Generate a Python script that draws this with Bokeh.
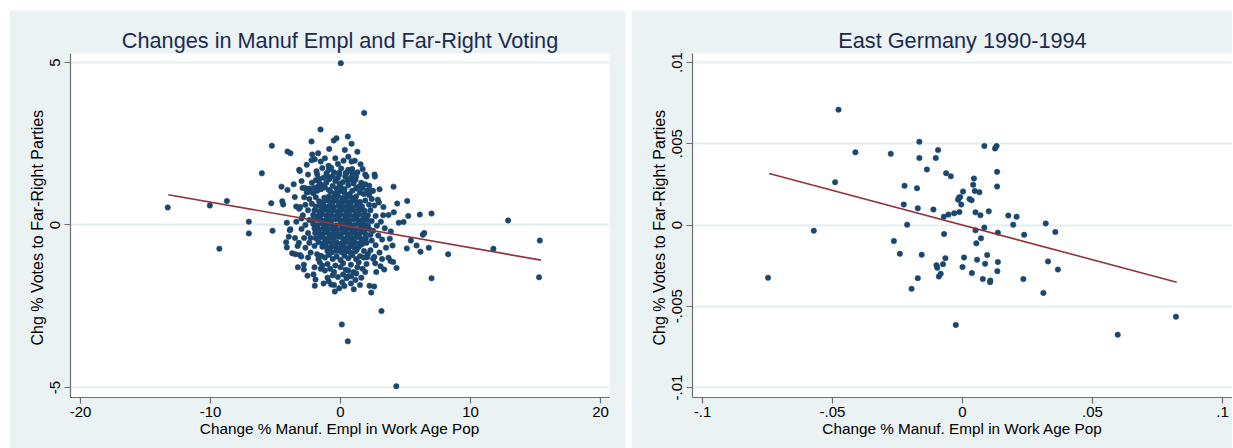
from bokeh.plotting import figure
from bokeh.layouts import row
from bokeh.models import FixedTicker, Range1d
from bokeh.embed import file_html
from bokeh.resources import INLINE

# ---------------- texts ----------------
left_title = "Changes in Manuf Empl and Far-Right Voting"
right_title = "East Germany 1990-1994"
x_title = "Change % Manuf. Empl in Work Age Pop"
y_title = "Chg % Votes to  Far-Right Parties"

# ---------------- ticks ----------------
left_xticks = [-20, -10, 0, 10, 20]
left_xlabels = ["-20", "-10", "0", "10", "20"]
left_yticks = [-5, 0, 5]
left_ylabels = ["-5", "0", "5"]
right_xticks = [-0.1, -0.05, 0, 0.05, 0.1]
right_xlabels = ["-.1", "-.05", "0", ".05", ".1"]
right_yticks = [-0.01, -0.005, 0, 0.005, 0.01]
right_ylabels = ["-.01", "-.005", "0", ".005", ".01"]

# ---------------- left panel data ----------------
left_far = [(-13.29, 0.54), (-10.05, 0.60), (-8.74, 0.74), (-9.32, -0.73), (-7.05, 0.10),
            (-7.05, -0.26), (-6.05, 1.59), (-5.28, 2.44), (-5.33, 0.67), (-5.23, -0.18),
            (8.28, -0.90), (11.76, -0.73), (12.89, 0.14), (15.33, -0.48), (15.27, -1.61),
            (0.02, 4.98), (1.82, 3.45), (3.15, -2.65), (0.10, -3.06), (0.56, -3.58),
            (4.29, -4.96), (7.00, 0.35), (7.00, -1.64), (6.10, 0.32)]

left_upper = [(-1.54, 2.94), (-2.23, 2.57), (-0.52, 2.60), (-0.31, 2.67), (0.56, 2.72), (0.85, 2.50),
              (-0.87, 2.34), (0.33, 2.31), (-4.08, 2.26), (-3.85, 2.21), (-2.18, 2.17), (-1.72, 2.21),
              (-2.23, 1.99), (-1.98, 2.02), (-1.52, 1.95), (0.23, 1.98), (0.85, 1.95), (1.10, 1.98),
              (1.54, 1.87), (-3.18, 1.70), (-3.13, 1.66), (-0.92, 1.82), (-0.72, 1.76), (0.05, 1.74),
              (-1.85, 1.65), (-1.79, 1.55), (-1.64, 1.42), (-1.08, 1.59), (-0.98, 1.49), (-0.87, 1.41),
              (-0.10, 1.61), (0.46, 1.59), (0.36, 1.49), (1.90, 1.55), (2.00, 1.49), (2.62, 1.55),
              (2.64, 1.49), (0.56, 1.37), (0.87, 1.39), (1.15, 1.39), (-0.08, 1.27), (4.08, 1.18),
              (-4.54, 1.18), (-4.08, 1.08), (-2.92, 1.14), (-2.75, 1.14), (-2.41, 1.12), (-2.05, 1.14),
              (-1.75, 1.18), (-1.38, 1.21), (1.41, 1.18), (1.69, 1.14), (2.21, 1.21), (2.05, 1.06),
              (-4.48, 0.73), (-4.41, 0.63), (-3.52, 0.86), (-3.41, 0.57), (-3.18, 0.50), (2.87, 0.78),
              (2.95, 0.69), (5.13, 0.74), (4.36, 0.66), (5.21, 0.28), (4.10, 0.39), (3.69, 0.31),
              (3.28, 0.30)]

left_lower = [(-4.13, 0.07), (-3.90, -0.16), (-4.18, -0.53), (-4.13, -0.69), (-3.98, -0.36), (-3.72, -0.87),
              (-3.46, -0.90), (-3.13, -0.92), (-3.02, -0.97), (-3.28, -1.30), (-2.82, -1.22), (-2.82, -1.37),
              (-2.54, -1.56), (-2.08, -1.52), (-1.92, -1.68), (-1.98, -1.87), (-1.52, -1.35), (-2.00, -1.30),
              (-0.92, -1.73), (-0.72, -1.83), (-0.44, -2.05), (-0.10, -1.95), (0.13, -1.76), (0.46, -1.64),
              (0.62, -1.58), (0.82, -1.58), (1.15, -1.69), (1.21, -1.49), (1.02, -1.98), (2.23, -1.87),
              (2.59, -1.89), (2.36, -2.08), (2.75, -1.45), (3.36, -1.37), (3.69, -1.01), (3.85, -1.11),
              (4.05, -1.14), (4.31, -1.32), (4.00, -0.63), (3.79, -0.42), (3.87, -0.20), (5.10, -0.72),
              (5.41, -0.48), (5.85, -0.63), (6.15, -0.82), (6.79, -0.70), (6.33, -0.30), (6.44, -0.25),
              (4.48, 0.07), (4.85, 0.09), (2.05, -0.99), (2.51, -1.04), (3.08, -1.27), (2.67, -1.18),
              (-3.86, -0.13)]

left_ring = [(-2.4, 1.02), (-2.1, 0.98), (-1.8, 1.05), (-1.5, 1.10), (-1.2, 1.15), (-0.9, 1.08), (-0.6, 1.20),
             (-0.3, 1.12), (0.0, 1.18), (0.3, 1.10), (0.6, 1.22), (0.9, 1.05), (1.2, 1.12), (1.5, 1.00),
             (1.8, 0.95), (2.2, 0.92), (-1.1, 1.30), (-0.4, 1.35), (0.2, 1.32), (1.0, 1.28), (-1.6, 1.28),
             (1.6, 1.30), (0.8, 1.45), (-0.6, 1.50), (-1.3, 1.45), (-0.2, 1.88), (0.6, 1.70), (-0.5, 1.62),
             (1.3, 1.62), (-2.5, 1.55),
             (-1.8, -0.90), (-1.5, -0.95), (-1.2, -1.00), (-0.9, -0.92), (-0.6, -1.05), (-0.3, -0.97),
             (0.0, -1.08), (0.3, -0.95), (0.6, -1.02), (0.9, -0.93), (1.2, -1.05), (1.5, -0.96), (1.8, -1.00),
             (2.1, -0.90), (-1.6, -1.15), (-1.0, -1.20), (-0.4, -1.25), (0.2, -1.18), (0.8, -1.22),
             (1.4, -1.15), (2.0, -1.20), (-1.2, -1.40), (-0.5, -1.45), (0.4, -1.38), (1.0, -1.45),
             (1.7, -1.35), (-0.2, -1.60), (0.8, -1.80), (1.6, -1.62), (-1.0, -1.62),
             (-2.4, 0.80), (-2.7, 0.62), (-2.5, 0.45), (-2.9, 0.30), (-2.4, 0.15), (-2.7, 0.00),
             (-3.0, -0.12), (-2.5, -0.25), (-2.8, -0.40), (-2.4, -0.55), (-2.7, -0.70), (-2.3, -0.85),
             (-3.1, 0.55), (-3.2, -0.55), (-2.6, 1.00),
             (2.4, 0.80), (2.6, 0.60), (2.3, 0.45), (2.7, 0.28), (2.4, 0.12), (2.8, -0.02), (2.5, -0.18),
             (2.9, -0.32), (2.4, -0.48), (2.7, -0.62), (2.3, -0.78), (3.0, -0.85), (3.1, 0.10),
             (3.2, -0.45), (2.6, -0.98)]

left_extra = [(-2.2, 1.30), (-1.9, 1.38), (-0.2, 1.45), (0.4, 1.60), (1.2, 1.50), (1.9, 1.25), (2.4, 1.05),
              (-2.8, 0.85), (-3.0, 0.20), (-2.2, 0.65), (2.2, 0.62), (2.1, 0.30), (3.3, 0.55), (-3.4, 0.10),
              (-2.3, -0.40), (2.3, -0.30), (3.5, -0.70), (-2.5, -1.00), (-1.4, -1.25), (-0.8, -1.35),
              (0.0, -1.30), (0.6, -1.40), (1.3, -1.30), (1.9, -1.45), (-0.6, -1.55), (0.2, -1.52),
              (1.5, -1.85), (-1.3, -1.80), (-0.5, -1.85), (0.3, -1.88), (-0.9, 1.70), (0.9, 1.72),
              (-1.4, 1.75), (1.7, 1.72), (-0.4, 2.05), (0.6, 2.10), (-1.2, 2.05), (1.3, 2.25),
              (-2.6, 1.85), (2.5, 1.05), (3.0, 1.10), (-3.6, 1.25), (-3.0, 1.35), (3.4, -0.10),
              (3.2, -1.05), (-3.5, -0.40), (-3.3, -0.65), (-1.7, -1.05), (1.8, -0.80), (-2.0, -0.65),
              (2.0, -0.55), (-0.1, 1.55), (0.9, 1.60), (-1.9, 0.85), (1.9, 0.75)]

left_core = [(-0.75, 1.02), (-0.4, 0.97), (-0.05, 1.04), (0.3, 0.99), (0.7, 0.95),
             (-1.25, 0.84), (-0.9, 0.88), (-0.55, 0.85), (-0.2, 0.89), (0.15, 0.83), (0.5, 0.87), (0.85, 0.84), (1.2, 0.88),
             (-1.65, 0.73), (-1.3, 0.70), (-0.95, 0.75), (-0.6, 0.71), (-0.25, 0.74), (0.1, 0.69), (0.45, 0.73),
             (0.8, 0.70), (1.15, 0.74), (1.5, 0.71),
             (-1.9, 0.57), (-1.55, 0.60), (-1.2, 0.56), (-0.85, 0.59), (-0.5, 0.55), (-0.15, 0.60), (0.2, 0.57),
             (0.55, 0.58), (0.9, 0.55), (1.25, 0.60), (1.65, 0.57),
             (-2.0, 0.45), (-1.65, 0.42), (-1.3, 0.46), (-0.95, 0.43), (-0.6, 0.44), (-0.25, 0.41), (0.1, 0.46),
             (0.45, 0.43), (0.8, 0.45), (1.15, 0.42), (1.5, 0.46), (1.85, 0.44),
             (-2.1, 0.31), (-1.75, 0.28), (-1.4, 0.32), (-1.05, 0.29), (-0.7, 0.30), (-0.35, 0.27), (0.0, 0.32),
             (0.35, 0.29), (0.7, 0.31), (1.05, 0.28), (1.4, 0.32), (1.75, 0.30), (2.0, 0.27),
             (-2.15, 0.15), (-1.8, 0.18), (-1.45, 0.14), (-1.1, 0.17), (-0.75, 0.13), (-0.4, 0.18), (-0.05, 0.15),
             (0.3, 0.16), (0.65, 0.13), (1.0, 0.18), (1.35, 0.14), (1.7, 0.17), (2.05, 0.15),
             (-2.1, 0.03), (-1.75, 0.00), (-1.4, 0.04), (-1.05, 0.01), (-0.7, 0.02), (-0.35, -0.01), (0.0, 0.04),
             (0.35, 0.01), (0.7, 0.03), (1.05, 0.00), (1.4, 0.04), (1.75, 0.02), (2.1, -0.01),
             (-2.0, -0.11), (-1.65, -0.14), (-1.3, -0.10), (-0.95, -0.13), (-0.6, -0.12), (-0.25, -0.15),
             (0.1, -0.10), (0.45, -0.13), (0.8, -0.11), (1.15, -0.14), (1.5, -0.10), (1.85, -0.13), (2.2, -0.12),
             (-1.95, -0.25), (-1.6, -0.28), (-1.25, -0.24), (-0.9, -0.27), (-0.55, -0.26), (-0.2, -0.29),
             (0.15, -0.24), (0.5, -0.27), (0.85, -0.25), (1.2, -0.28), (1.55, -0.24), (1.9, -0.27),
             (-1.9, -0.41), (-1.55, -0.38), (-1.2, -0.42), (-0.85, -0.39), (-0.5, -0.40), (-0.15, -0.37),
             (0.2, -0.42), (0.55, -0.39), (0.9, -0.41), (1.25, -0.38), (1.6, -0.42), (1.95, -0.40),
             (-1.7, -0.53), (-1.35, -0.56), (-1.0, -0.52), (-0.65, -0.55), (-0.3, -0.54), (0.05, -0.57),
             (0.4, -0.52), (0.75, -0.55), (1.1, -0.53), (1.45, -0.56), (1.85, -0.54),
             (-1.4, -0.67), (-1.05, -0.70), (-0.7, -0.66), (-0.35, -0.69), (0.0, -0.68), (0.35, -0.71),
             (0.7, -0.66), (1.05, -0.69), (1.4, -0.67),
             (-1.0, -0.81), (-0.65, -0.84), (-0.3, -0.80), (0.05, -0.83), (0.4, -0.82), (0.75, -0.85), (1.15, -0.81)]

left_core_fill = [(-1.08, 0.78), (-0.42, 0.79), (0.28, 0.78), (0.98, 0.79),
                  (-1.42, 0.50), (-0.72, 0.51), (-0.02, 0.50), (0.68, 0.51), (1.38, 0.50),
                  (-1.58, 0.22), (-0.88, 0.23), (-0.18, 0.22), (0.52, 0.23), (1.22, 0.22), (1.9, 0.23),
                  (-1.22, -0.05), (-0.52, -0.04), (0.18, -0.05), (0.88, -0.04), (1.58, -0.05),
                  (-1.42, -0.33), (-0.72, -0.32), (-0.02, -0.33), (0.68, -0.32), (1.38, -0.33),
                  (-1.18, -0.60), (-0.48, -0.61), (0.22, -0.60), (0.92, -0.61), (1.62, -0.60),
                  (-0.82, -0.75), (-0.12, -0.76), (0.58, -0.75), (1.25, -0.76)]

left_fit_x = [-13.25, 15.42]
left_fit_y = [0.93, -1.08]

# ---------------- right panel data ----------------
right_points = [(-0.0748, -0.00325), (-0.0572, -0.00035), (-0.0477, 0.00710), (-0.0490, 0.00263),
                (-0.0412, 0.00447), (-0.0276, 0.00438), (-0.0264, -0.00099), (-0.0241, -0.00177),
                (-0.0223, 0.00241), (-0.0226, 0.00126), (-0.0213, 0.00002), (-0.0196, -0.00393),
                (-0.0175, 0.00226), (-0.0172, 0.00103), (-0.0172, -0.00327), (-0.0166, 0.00512),
                (-0.0166, 0.00412), (-0.0157, -0.00183), (-0.0137, 0.00342), (-0.0112, 0.00095),
                (-0.0103, 0.00412), (-0.0094, 0.00461), (-0.0100, -0.00247), (-0.0097, -0.00263),
                (-0.0091, -0.00317), (-0.0084, -0.00300), (-0.0075, -0.00241), (-0.0072, 0.00051),
                (-0.0071, -0.00056), (-0.0066, -0.00204), (-0.0063, 0.00319), (-0.0054, 0.00064),
                (-0.0045, 0.00300), (-0.0032, 0.00072), (-0.0026, -0.00615), (-0.0017, 0.00156),
                (-0.0014, 0.00167), (-0.0009, 0.00173), (-0.0012, 0.00080), (-0.0005, 0.00126),
                (0.0002, 0.00206), (0.0000, -0.00259), (0.0006, -0.00200), (0.0027, 0.00160),
                (0.0035, 0.00152), (0.0036, -0.00296), (0.0041, 0.00247), (0.0044, 0.00286),
                (0.0047, 0.00210), (0.0050, 0.00078), (0.0050, -0.00033), (0.0053, -0.00113),
                (0.0056, -0.00214), (0.0065, 0.00202), (0.0069, 0.00060), (0.0071, -0.00082),
                (0.0078, -0.00333), (0.0084, 0.00486), (0.0084, -0.00016), (0.0087, -0.00239),
                (0.0095, -0.00185), (0.0101, 0.00084), (0.0106, -0.00352), (0.0107, -0.00342),
                (0.0125, 0.00471), (0.0131, 0.00486), (0.0133, 0.00327), (0.0133, 0.00237),
                (0.0136, -0.00047), (0.0136, -0.00228), (0.0134, -0.00284), (0.0176, 0.00058),
                (0.0195, 0.00002), (0.0208, 0.00051), (0.0234, -0.00333), (0.0237, -0.00060),
                (0.0311, -0.00418), (0.0320, 0.00010), (0.0329, -0.00224), (0.0357, -0.00043),
                (0.0367, -0.00274), (0.0597, -0.00675), (0.0821, -0.00564)]

right_fit_x = [-0.0744, 0.0824]
right_fit_y = [0.00317, -0.00352]

# ---------------- style ----------------
FONT = "Liberation Sans"
BG = "#EAF2F3"
DOT = "#1a476f"
FIT = "#90353b"
AXIS = "#6f6f6f"
TITLE_COLOR = "#1c2a4f"


def make_panel(title, width, margin, border_left, border_right, xr, yr, xt, xl, yt, yl,
               pts, fx, fy):
    p = figure(width=width, height=438, output_backend="svg", toolbar_location=None,
               x_range=Range1d(*xr), y_range=Range1d(*yr), margin=margin,
               min_border_left=border_left, min_border_right=border_right,
               min_border_top=43, min_border_bottom=51)
    p.border_fill_color = BG
    p.background_fill_color = "white"
    p.outline_line_color = None

    p.title.text = title
    p.title.align = "center"
    p.title.text_font = FONT
    p.title.text_font_size = "21.7px"
    p.title.text_font_style = "normal"
    p.title.text_color = TITLE_COLOR
    p.title.standoff = 2

    for ax, ticks, labels in ((p.xaxis, xt, xl), (p.yaxis, yt, yl)):
        ax.ticker = FixedTicker(ticks=ticks)
        ax.major_label_overrides = {t: s for t, s in zip(ticks, labels)}
        ax.axis_line_color = AXIS
        ax.axis_line_width = 1.2
        ax.major_tick_line_color = AXIS
        ax.major_tick_line_width = 1.2
        ax.major_tick_out = 6
        ax.major_tick_in = 0
        ax.minor_tick_line_color = None
        ax.major_label_text_font = FONT
        ax.major_label_text_font_size = "15px"
        ax.major_label_text_color = "black"
        ax.axis_label_text_font = FONT
        ax.axis_label_text_font_style = "normal"
        ax.axis_label_text_color = "black"
    p.xaxis.axis_label = x_title
    p.yaxis.axis_label = y_title
    p.xaxis.axis_label_text_font_size = "15.3px"
    p.yaxis.axis_label_text_font_size = "16px"
    p.xaxis.major_label_standoff = 3
    p.xaxis.axis_label_standoff = 0
    p.yaxis.major_label_standoff = 4
    p.yaxis.axis_label_standoff = 2
    p.yaxis.major_label_orientation = "vertical"

    p.xgrid.visible = False
    p.ygrid.ticker = FixedTicker(ticks=yt)
    p.ygrid.grid_line_color = "#e4eef0"
    p.ygrid.grid_line_width = 2

    xs = [q[0] for q in pts]
    ys = [q[1] for q in pts]
    p.scatter(xs, ys, marker="circle", size=5.5, fill_color=DOT, line_color=DOT,
              line_width=0.5)
    p.line(fx, fy, line_color=FIT, line_width=1.6)
    return p


left_pts = left_far + left_upper + left_lower + left_ring + left_extra + left_core + left_core_fill

p1 = make_panel(left_title, 616, (10, 0, 0, 9), 61, 16, (-20.77, 20.69), (-5.308, 5.277),
                left_xticks, left_xlabels, left_yticks, left_ylabels,
                left_pts, left_fit_x, left_fit_y)
p2 = make_panel(right_title, 601, (10, 0, 0, 0), 61, 0, (-0.10386, 0.10385), (-0.010615, 0.010554),
                right_xticks, right_xlabels, right_yticks, right_ylabels,
                right_points, right_fit_x, right_fit_y)

layout = row(p1, p2, spacing=6)
open("out.html", "w").write(file_html(layout, INLINE))
